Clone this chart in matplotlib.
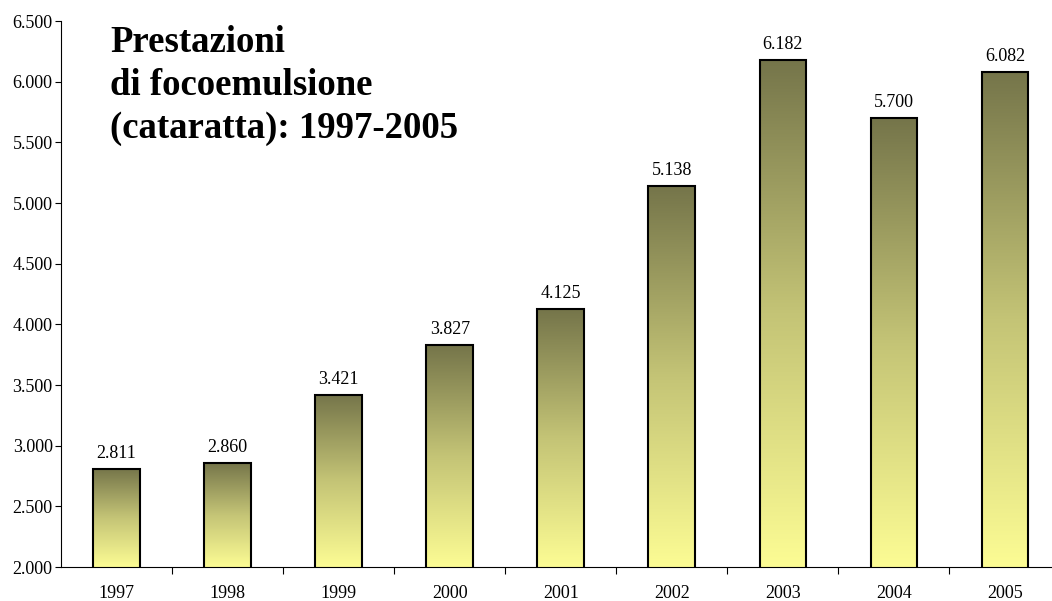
import numpy as np
import matplotlib.pyplot as plt
from matplotlib.colors import LinearSegmentedColormap
from matplotlib.ticker import FuncFormatter, FixedLocator

years = ["1997", "1998", "1999", "2000", "2001", "2002", "2003", "2004", "2005"]
values = [2811, 2860, 3421, 3827, 4125, 5138, 6182, 5700, 6082]

title = "Prestazioni\ndi focoemulsione\n(cataratta): 1997-2005"

plt.rcParams['font.family'] = ['Liberation Serif', 'DejaVu Serif']

W, H = 1052, 601
fig = plt.figure(figsize=(W / 100, H / 100), dpi=100)
# axes in pixel coords: left 61, right 1051, top 21, bottom 567
ax = fig.add_axes([61 / W, (H - 567) / H, (1051 - 61) / W, (567 - 21) / H])

x = np.arange(len(years))
ymin, ymax = 2000, 6500
bars = ax.bar(x, values, width=0.42, bottom=0, color='none',
              edgecolor='black', linewidth=1.5, zorder=3)

# vertical gradient inside each bar: pale yellow at bottom, olive at top
cmap = LinearSegmentedColormap.from_list('olive', ['#fcfc94', '#c4c476', '#75754a'])
grad = np.linspace(0, 1, 256).reshape(-1, 1)
for b in bars:
    x0, w = b.get_x(), b.get_width()
    top = b.get_height()
    im = ax.imshow(grad, extent=[x0, x0 + w, ymin, top], origin='lower',
                   cmap=cmap, aspect='auto', zorder=2, interpolation='bilinear')
    im.set_clip_path(b)

for xi, v in zip(x, values):
    ax.annotate(f"{v:,}".replace(",", "."), (xi, v), xytext=(0, 5),
                textcoords='offset points', ha='center', va='bottom', fontsize=13)

ax.set_xlim(-0.5, 8.5 - 9.5 / 111)
ax.set_ylim(ymin, ymax)
ax.set_yticks(np.arange(2000, 6501, 500))
ax.yaxis.set_major_formatter(FuncFormatter(lambda v, p: f"{int(v):,}".replace(",", ".")))
ax.set_xticks(x)
ax.set_xticklabels(years)
ax.xaxis.set_minor_locator(FixedLocator(np.arange(0.5, 8.5, 1)))
ax.tick_params(axis='x', which='major', length=0, pad=13, labelsize=13)
ax.tick_params(axis='x', which='minor', length=5, width=0.8, direction='out')
ax.tick_params(axis='y', length=4, width=0.8, direction='out', pad=2, labelsize=13)

for s in ['top', 'right']:
    ax.spines[s].set_visible(False)
ax.spines['left'].set_linewidth(0.8)
ax.spines['bottom'].set_linewidth(0.8)

fig.text(110 / W, 1 - 25 / H, title, fontsize=26.5, fontweight='bold',
         ha='left', va='top', linespacing=1.29)

fig.savefig("out.png", dpi=100)
